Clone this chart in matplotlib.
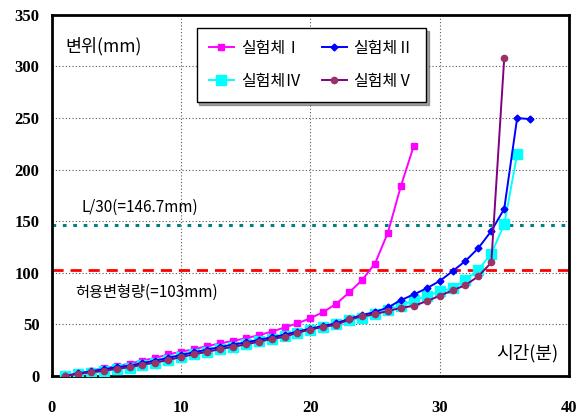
import matplotlib
matplotlib.use("Agg")
import matplotlib.pyplot as plt
import numpy as np

plt.rcParams["font.family"] = ["Noto Sans CJK KR", "DejaVu Sans"]

# time (min) and displacement (mm)
t_1 = list(range(1, 29))
disp_1 = [0, 2, 5, 7.5, 9.5, 12, 15, 17.5, 21, 23.5, 26, 29, 31.5, 34, 36.5,
          39.5, 43, 47, 51, 56, 62, 70, 81, 93, 109, 139, 184, 223]

t_2 = list(range(1, 38))
disp_2 = [0, 2.5, 4.5, 6.5, 8.5, 10, 12.5, 15, 17.5, 20.5, 23, 25.5, 28, 30.5,
          32.5, 35, 37.5, 40, 43, 46, 48.5, 51, 55.5, 59, 62, 66.4, 73.5, 79,
          85, 92, 101.5, 111.5, 124, 140.5, 162, 250, 249]

t_4 = list(range(1, 37))
disp_4 = [0, 1.5, 3, 4.5, 6.5, 8, 10.5, 13, 15.5, 18.5, 21, 23.5, 26, 28.5,
          31, 33.5, 36, 38.5, 42, 45, 47.5, 50, 54.5, 56, 60, 64, 68, 73.5,
          77.4, 82, 85, 93, 103, 118.6, 147, 215]

t_5 = list(range(1, 36))
disp_5 = [0, 2, 3.5, 5, 7, 8.5, 11, 13, 15.5, 18.5, 21, 23.5, 26, 28.3, 30.6,
          33.2, 35.8, 38, 42, 45, 47.7, 49.5, 54.8, 57.8, 60, 63, 66, 68, 72.5,
          77.7, 83, 88, 96.7, 110, 308]

limit_l30 = 146.7
limit_allow = 103.0

fig = plt.figure(figsize=(5.86, 4.16), dpi=100)
ax = fig.add_axes([0.0887, 0.0962, 0.882, 0.868])

ax.axhline(limit_l30, color="#008080", linestyle=(0, (1.2, 2.2)), linewidth=2.2, zorder=2)
ax.axhline(limit_allow, color="#FF0000", linestyle=(0, (4, 2.5)), linewidth=2, zorder=2)

h1, = ax.plot(t_1, disp_1, color="#FF00FF", marker="s", markersize=5, linewidth=1.4,
              label="실험체Ⅰ", zorder=3)
h2, = ax.plot(t_2, disp_2, color="#0000FF", marker="D", markersize=3.5, linewidth=1.4,
              label="실험체Ⅱ", zorder=4)
h4, = ax.plot(t_4, disp_4, color="#00FFFF", marker="s", markersize=6.5, linewidth=1.4,
              label="실험체Ⅳ", zorder=3)
h5, = ax.plot(t_5, disp_5, color="#800080", marker="o", markersize=4.5, linewidth=1.4,
              markerfacecolor="#993366", markeredgecolor="#993366",
              label="실험체Ⅴ", zorder=5)

ax.set_xlim(0, 40)
ax.set_ylim(0, 350)
ax.set_xticks(np.arange(0, 41, 10))
ax.set_yticks(np.arange(0, 351, 50))
ax.grid(True, color="#555555", linestyle=(0, (1, 2)), linewidth=0.8)
ax.tick_params(length=0)
ax.tick_params(axis="x", pad=17)
ax.tick_params(axis="y", pad=9)
for lab in ax.get_xticklabels() + ax.get_yticklabels():
    lab.set_fontfamily("Liberation Serif")
    lab.set_fontweight("bold")
    lab.set_fontsize(12)
for sp in ax.spines.values():
    sp.set_linewidth(2)

ax.text(1.0, 320, "변위(mm)", fontsize=12.5, ha="left", va="center")
ax.text(39.2, 22, "시간(분)", fontsize=13, ha="right", va="center")
ax.text(2.3, 163, "L/30(=146.7mm)", fontsize=11, ha="left", va="center")
ax.text(1.8, 81, "허용변형량(=103mm)", fontsize=11, ha="left", va="center")

# row-wise order: I, II / IV, V
leg = ax.legend([h1, h4, h2, h5], [h1.get_label(), h4.get_label(), h2.get_label(), h5.get_label()],
                loc="upper left", bbox_to_anchor=(0.28, 0.964), borderaxespad=0, ncol=2,
                fontsize=11.5, frameon=True, fancybox=False, shadow=True,
                handlelength=1.6, handletextpad=0.4, columnspacing=1.3,
                borderpad=0.75, labelspacing=1.0, framealpha=1)
leg.get_frame().set_edgecolor("black")
leg.get_frame().set_linewidth(1)

fig.savefig("out.png", dpi=100)
